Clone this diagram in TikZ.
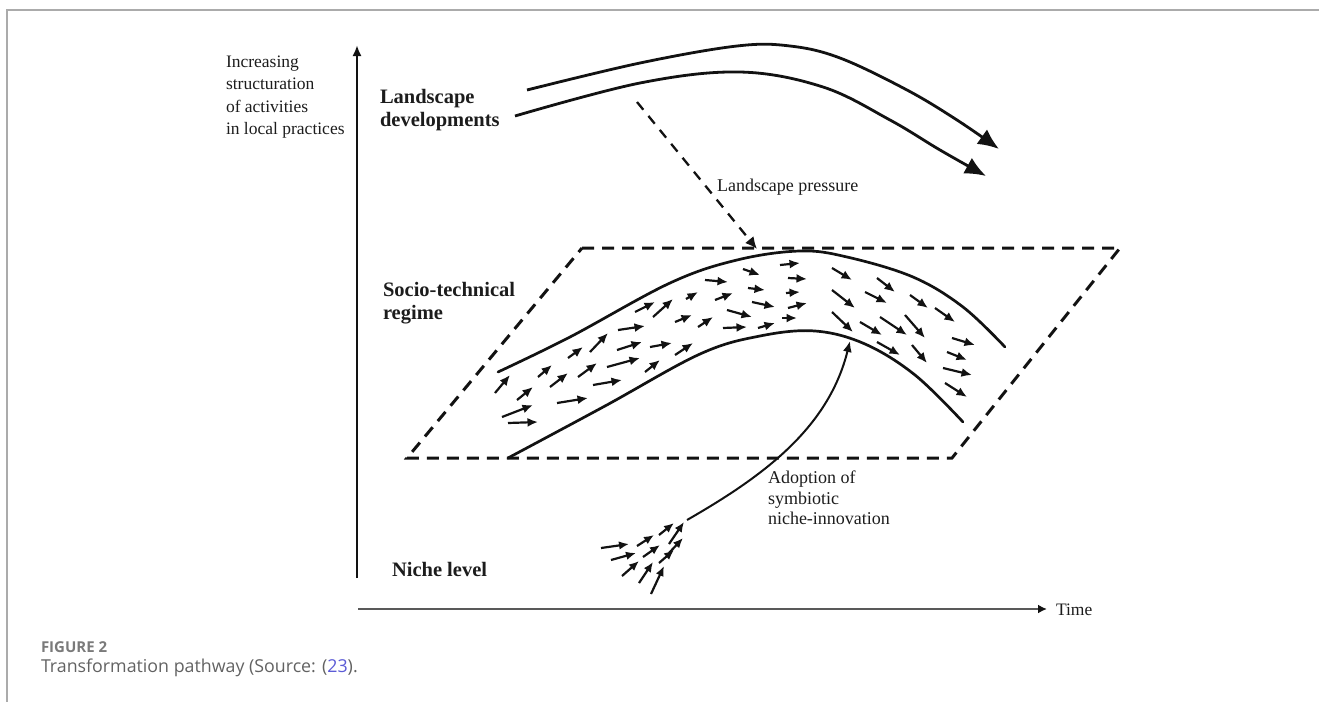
\documentclass[tikz,border=0pt]{standalone}
\usepackage{fontspec}
\setmainfont{Liberation Serif}
\newfontfamily\capfont{Open Sans}
\usetikzlibrary{arrows.meta}
\definecolor{ink}{HTML}{121212}
\definecolor{txt}{HTML}{1C1C1C}
\definecolor{capgray}{HTML}{626262}
\definecolor{framegray}{HTML}{ABABAB}
\definecolor{reflink}{HTML}{5B5BD6}
\begin{document}
\begin{tikzpicture}[x=1pt,y=-1pt,
  every node/.style={inner sep=0pt,outer sep=0pt,text=txt},
  axisline/.style={ink,line width=2.6pt,-{Latex[length=11pt,width=9pt]}},
  timeline/.style={gray!70!black,line width=2.6pt,-{Latex[length=9pt,width=9pt,color=ink]}},
  bandline/.style={ink,line width=2.7pt,line cap=round},
  planeedge/.style={ink,line width=3pt,dash pattern=on 12pt off 8pt},
  pressure/.style={ink,line width=2.3pt,dash pattern=on 10pt off 8pt,-{Latex[length=12pt,width=11pt]}},
  trend/.style={ink,line width=2.8pt,-{Latex[length=21pt,width=18pt]}},
  flow/.style={ink,line width=2.2pt,-{Latex[length=10.5pt,width=9pt]}},
  seed/.style={ink,line width=2.2pt,-{Latex[length=10pt,width=8.5pt]}},
  adopt/.style={ink,line width=2pt,-{Latex[length=11pt,width=9pt]}},
  lab/.style={font=\fontsize{17.5}{22.5}\selectfont,align=left},
  biglab/.style={font=\bfseries\fontsize{20.5}{23.5}\selectfont,align=left}]
\useasboundingbox (0,0) rectangle (1319,702);

% frame of the figure panel
\draw[framegray,line width=2pt] (1319,10) -- (7,10) -- (7,702);

% axes
\coordinate (yfoot) at (357,578);
\coordinate (ytop) at (357,45);
\coordinate (xfoot) at (358,609);
\coordinate (xtip) at (1047,609);
\draw[axisline] (yfoot) -- (ytop);
\draw[timeline] (xfoot) -- (xtip);
\node[lab,anchor=west] (time) at (1056,610) {Time};

% axis and level labels
\node[lab,anchor=west] (struct) at (226,97) {Increasing\\structuration\\of activities\\in local practices};
\node[biglab,anchor=west] (landdev) at (380,110) {Landscape\\developments};
\node[biglab,anchor=west] (regime) at (383,303) {Socio-technical\\regime};
\node[biglab,anchor=west] (niche) at (392,569) {Niche level};

% landscape developments: two long bent arrows
\draw[trend] plot[smooth,tension=0.6] coordinates
  {(527,90) (640,63) (737,46) (790,46) (840,58) (907,90) (957,120) (999,149)};
\draw[trend] plot[smooth,tension=0.6] coordinates
  {(515,116) (640,83) (740,72) (823,87) (890,120) (940,150) (986,176)};

% regime plane
\coordinate (pTL) at (582,248);
\coordinate (pTR) at (1120,248);
\coordinate (pBR) at (952,458);
\coordinate (pBL) at (407,458);
\draw[planeedge] (pTL) -- (pTR) -- (pBR) -- (pBL) -- cycle;

% landscape pressure
\coordinate (lpStart) at (637,102);
\coordinate (lpEnd) at (757,249);
\draw[pressure] (lpStart) -- (lpEnd);
\node[font=\fontsize{18}{20}\selectfont,anchor=west] (lptext) at (717,187) {Landscape pressure};

% regime trajectory band
\draw[bandline] plot[smooth,tension=0.6] coordinates
  {(498,372) (570,337) (670,283) (737,260) (800,251) (847,257) (913,277) (963,307) (1005,347)};
\draw[bandline] plot[smooth,tension=0.6] coordinates
  {(508,458) (605,406) (700,354) (760,336) (815,331) (865,344) (915,375) (963,422)};

% activities flowing through the regime
\foreach \ax/\ay/\bx/\by in {
  495/393/510/375, 517/400/533/387, 502/417/533/405, 508/423/538/422,
  538/377/552/365, 550/387/568/373, 557/403/588/398, 568/358/583/347,
  578/377/597/363, 590/352/608/333, 593/385/622/380, 607/367/640/358,
  618/330/645/326, 617/350/642/342, 645/372/660/360, 650/347/672/343,
  675/355/693/343, 635/312/655/302, 653/317/673/299, 675/322/692/315,
  686/299/698/292, 698/327/713/317, 705/280/728/282, 715/300/733/293,
  723/328/747/327, 727/310/752/317, 743/269/760/275, 748/288/765/290,
  752/302/775/307, 758/328/775/323, 780/265/800/263, 788/278/807/279,
  786/293/800/292, 788/308/807/303, 782/318/797/318,
  832/268/852/280, 832/290/855/308, 832/312/853/332, 865/292/887/303,
  877/278/895/292, 860/322/882/335, 880/317/907/335, 877/342/900/355,
  905/315/925/338, 910/295/928/308, 912/345/927/363, 935/308/955/322,
  952/338/975/345, 947/352/967/360, 943/368/972/375, 945/383/967/397}
  \draw[flow] (\ax,\ay) -- (\bx,\by);

% niche-innovations
\foreach \ax/\ay/\bx/\by in {
  601/548/629/544, 611/560/636/553, 622/576/639/561, 639/583/653/562,
  651/594/664/566, 637/546/654/535, 643/557/660/545, 659/563/674/550,
  659/535/674/523, 669/544/684/522, 669/553/683/538}
  \draw[seed] (\ax,\ay) -- (\bx,\by);

% adoption of the niche-innovation into the regime
\coordinate (nicheOut) at (687,520);
\coordinate (regimeIn) at (850,341);
\draw[adopt] (nicheOut) .. controls (760,478) and (828,430) .. (regimeIn);
\node[font=\fontsize{18}{20.5}\selectfont,align=left,anchor=west] (adopttext) at (768,498)
  {Adoption of\\symbiotic\\niche-innovation};

% caption
\node[font=\capfont\bfseries\fontsize{15}{17}\selectfont,text=capgray!85,anchor=west] (fig) at (41,647) {FIGURE 2};
\node[font=\capfont\fontsize{17.8}{20}\selectfont,text=capgray,anchor=west] (caption) at (41,668)
  {Transformation pathway (Source: (\textcolor{reflink}{23}).};
\end{tikzpicture}
\end{document}
